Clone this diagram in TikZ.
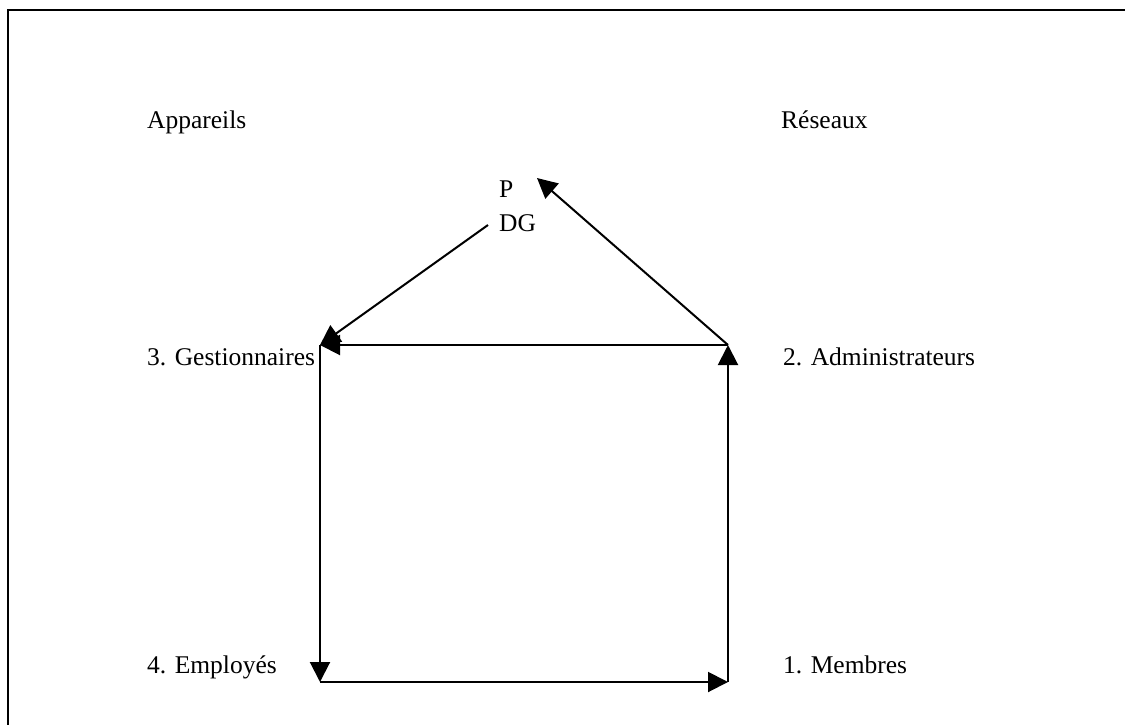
\documentclass[tikz,border=0pt]{standalone}
\usepackage{fontspec}
\setmainfont{Liberation Serif}
\usetikzlibrary{arrows.meta}
\begin{document}
\begin{tikzpicture}[x=1pt,y=-1pt,
  lbl/.style={anchor=base west,inner sep=0pt,font=\fontsize{25.5}{30}\selectfont},
  link/.style={line width=2pt,-{Triangle[length=20pt,width=20pt]}},
  plain/.style={line width=2pt}]
  \useasboundingbox (0,0) rectangle (1125,724);
  \clip (0,0) rectangle (1125,724);
  % outer frame
  \draw[line width=2pt] (8,10) rectangle (1150,760);

  % labels
  \node[lbl] (app) at (147,128) {Appareils};
  \node[lbl] (res) at (781,128) {Réseaux};
  \node[lbl] (p)   at (499,197) {P};
  \node[lbl] (dg)  at (499,231) {DG};
  \node[lbl] (ges) at (147,365) {3. Gestionnaires};
  \node[lbl] (adm) at (783,365) {2. Administrateurs};
  \node[lbl] (emp) at (147,673) {4. Employés};
  \node[lbl] (mem) at (783,673) {1. Membres};

  % corners of the loop
  \coordinate (c3) at (320,345);
  \coordinate (c2) at (728,345);
  \coordinate (c4) at (320,682);
  \coordinate (c1) at (728,682);
  \coordinate (ptip) at (537,178);
  \coordinate (dgfoot) at (488,225);

  % connectors
  \draw[link] (c1) -- (c2);
  \draw[link] (c2) -- (c3);
  \draw[link] (c2) -- (ptip);
  \draw[link] (dgfoot) -- (c3);
  \draw[link] (c3) -- (c4);
  \draw[link] (c4) -- (c1);
\end{tikzpicture}
\end{document}
